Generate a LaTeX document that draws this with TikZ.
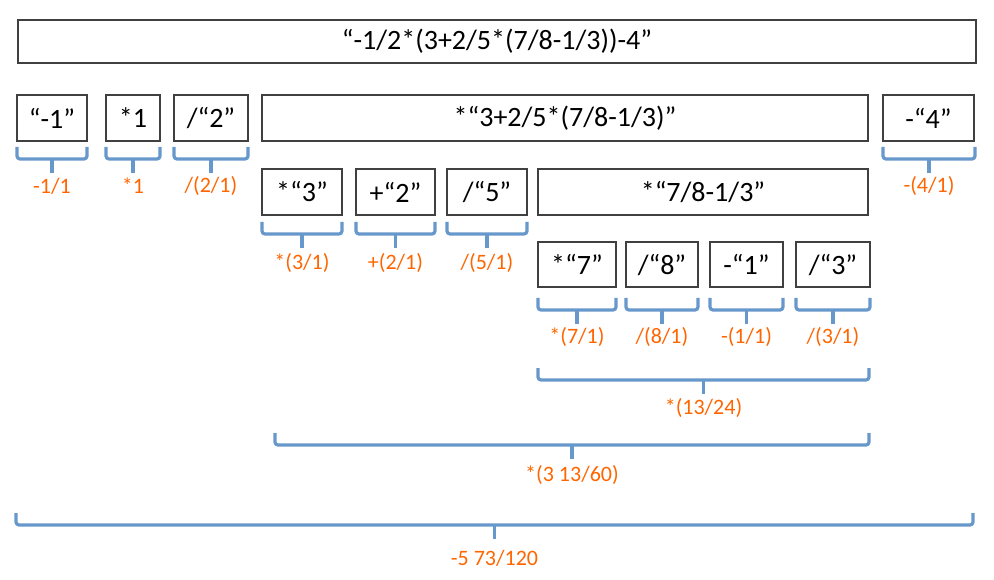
\documentclass[tikz,border=0pt]{standalone}
\usepackage{fontspec}
\setmainfont{Carlito}
\definecolor{brblue}{RGB}{103,152,204}
\definecolor{lblorange}{RGB}{255,102,0}
\definecolor{boxgray}{RGB}{64,64,64}
\tikzset{
  boxst/.style={draw=boxgray, line width=1.4pt, fill=white, inner sep=0pt, outer sep=0pt,
    font=\fontsize{28}{32}\selectfont},
  bracest/.style={draw=brblue, line width=3.2pt, rounded corners=3pt},
  lblst/.style={text=lblorange, font=\fontsize{22}{26}\selectfont, inner sep=0pt}
}
\newcommand\mybx[6]{\node[boxst, minimum width={(#4)-(#2)}, minimum height={(#5)-(#3)}] (#1) at ({((#2)+(#4))/2},{((#3)+(#5))/2}) {#6};}
% name, x1, x2, top, label y, text
\newcommand\mybrc[6]{%
  \draw[bracest] (#2,#4) -- (#2,#4+12) -- (#3,#4+12) -- (#3,#4);
  \draw[draw=brblue, line width=3.2pt] ({((#2)+(#3))/2},#4+12) -- ({((#2)+(#3))/2},#4+26);
  \node[lblst] (#1) at ({((#2)+(#3))/2},#5) {#6};}
\begin{document}
\begin{tikzpicture}[x=1pt,y=-1pt]
\useasboundingbox (0,0) rectangle (994,580);
\fill[white] (0,0) rectangle (994,580);
% top
\mybx{top}{18}{20}{976}{63}{“-1/2*(3+2/5*(7/8-1/3))-4”}
% row 1
\mybx{ra}{17}{95}{87}{141}{“-1”}
\mybx{rb}{106}{95}{160}{141}{*1}
\mybx{rc}{174}{95}{248}{141}{/“2”}
\mybx{rd}{262}{95}{868}{141}{*“3+2/5*(7/8-1/3)”}
\mybx{re}{883}{95}{974}{141}{-“4”}
% row 2
\mybx{sa}{262}{169}{342}{215}{*“3”}
\mybx{sb}{356}{169}{435}{215}{+“2”}
\mybx{sc}{447}{169}{527}{215}{/“5”}
\mybx{sd}{538}{169}{868}{215}{*“7/8-1/3”}
% row 3
\mybx{ta}{538}{242}{616}{287}{*“7”}
\mybx{tb}{626}{242}{698}{287}{/“8”}
\mybx{tc}{710}{242}{783}{287}{-“1”}
\mybx{td}{796}{242}{870}{287}{/“3”}
% braces row 1
\mybrc{la}{17}{87}{147}{186}{-1/1}
\mybrc{lb}{106}{160}{147}{186}{*1}
\mybrc{lc}{174}{248}{147}{186}{/(2/1)}
\mybrc{le}{883}{975}{147}{186}{-(4/1)}
% braces row 2
\mybrc{ma}{262}{342}{222}{263}{*(3/1)}
\mybrc{mb}{356}{435}{222}{263}{+(2/1)}
\mybrc{mc}{447}{527}{222}{263}{/(5/1)}
% braces row 3
\mybrc{na}{538}{616}{298}{337}{*(7/1)}
\mybrc{nb}{626}{698}{298}{337}{/(8/1)}
\mybrc{nc}{710}{783}{298}{337}{-(1/1)}
\mybrc{nd}{796}{870}{298}{337}{/(3/1)}
% combined
\mybrc{pa}{538}{869}{368}{408}{*(13/24)}
\mybrc{pb}{275}{869}{433}{475}{*(3 13/60)}
\mybrc{pc}{16}{973}{513}{558}{-5 73/120}
\end{tikzpicture}
\end{document}
